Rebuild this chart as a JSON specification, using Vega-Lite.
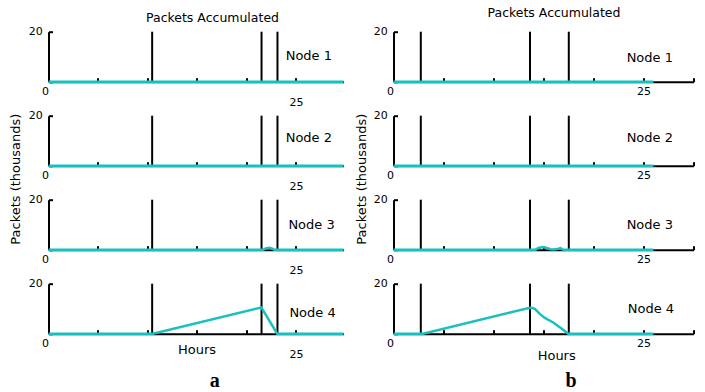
{
  "$schema": "https://vega.github.io/schema/vega-lite/v6.json",
  "autosize": {"type": "pad"},
  "padding": {"left": 8.5, "top": 6.7, "right": 0, "bottom": 0},
  "background": "white",
  "config": {
    "view": {"stroke": null},
    "font": "DejaVu Sans",
    "axis": {
      "domainColor": "black", "domainWidth": 2,
      "tickColor": "black", "tickWidth": 2, "tickSize": -4,
      "labelColor": "black", "labelFont": "DejaVu Sans", "labelFontSize": 11,
      "grid": false, "labelFlush": false, "labelOverlap": false, "labelBound": false,
      "titleFont": "DejaVu Sans", "titleFontSize": 13, "titleFontWeight": "normal", "titleColor": "black"
    }
  },
  "datasets": {
    "series": [
      {"panel": "a1", "t": 0, "v": 0}, {"panel": "a1", "t": 29.8, "v": 0},
      {"panel": "a2", "t": 0, "v": 0}, {"panel": "a2", "t": 29.8, "v": 0},
      {"panel": "a3", "t": 0, "v": 0}, {"panel": "a3", "t": 21.7, "v": 0}, {"panel": "a3", "t": 21.95, "v": 0.5}, {"panel": "a3", "t": 22.3, "v": 0.8}, {"panel": "a3", "t": 22.6, "v": 0.4}, {"panel": "a3", "t": 22.8, "v": 0}, {"panel": "a3", "t": 29.8, "v": 0},
      {"panel": "a4", "t": 0, "v": 0}, {"panel": "a4", "t": 10.55, "v": 0}, {"panel": "a4", "t": 21.5, "v": 10.5}, {"panel": "a4", "t": 23.1, "v": 0}, {"panel": "a4", "t": 29.8, "v": 0},
      {"panel": "b1", "t": 0, "v": 0}, {"panel": "b1", "t": 26.0, "v": 0},
      {"panel": "b2", "t": 0, "v": 0}, {"panel": "b2", "t": 26.0, "v": 0},
      {"panel": "b3", "t": 0, "v": 0}, {"panel": "b3", "t": 14.2, "v": 0}, {"panel": "b3", "t": 14.5, "v": 0.7}, {"panel": "b3", "t": 14.95, "v": 1.1}, {"panel": "b3", "t": 15.4, "v": 0.6}, {"panel": "b3", "t": 15.7, "v": 0.2}, {"panel": "b3", "t": 16.0, "v": 0.1}, {"panel": "b3", "t": 16.4, "v": 0.3}, {"panel": "b3", "t": 16.7, "v": 0.6}, {"panel": "b3", "t": 16.9, "v": 0.1}, {"panel": "b3", "t": 17.2, "v": 0}, {"panel": "b3", "t": 26.0, "v": 0},
      {"panel": "b4", "t": 0, "v": 0}, {"panel": "b4", "t": 2.97, "v": 0}, {"panel": "b4", "t": 13.73, "v": 10.5}, {"panel": "b4", "t": 14.13, "v": 9.9}, {"panel": "b4", "t": 14.63, "v": 7.9}, {"panel": "b4", "t": 15.13, "v": 6.3}, {"panel": "b4", "t": 15.97, "v": 4.5}, {"panel": "b4", "t": 16.8, "v": 2.1}, {"panel": "b4", "t": 17.47, "v": 0}, {"panel": "b4", "t": 26.0, "v": 0}
    ],
    "vlines": [
      {"col": "a", "t": 10.47}, {"col": "a", "t": 21.52}, {"col": "a", "t": 23.13},
      {"col": "b", "t": 2.73}, {"col": "b", "t": 13.65}, {"col": "b", "t": 17.53}
    ],
    "nodes": [
      {"panel": "a1", "t": 26.3, "v": 10.2, "text": "Node 1"},
      {"panel": "a2", "t": 26.3, "v": 11.0, "text": "Node 2"},
      {"panel": "a3", "t": 26.57, "v": 10.0, "text": "Node 3"},
      {"panel": "a4", "t": 26.67, "v": 8.4, "text": "Node 4"},
      {"panel": "b1", "t": 25.63, "v": 9.6, "text": "Node 1"},
      {"panel": "b2", "t": 25.63, "v": 11.0, "text": "Node 2"},
      {"panel": "b3", "t": 25.63, "v": 10.0, "text": "Node 3"},
      {"panel": "b4", "t": 25.75, "v": 10.0, "text": "Node 4"}
    ],
    "letters": [
      {"col": "a", "t": 16.8, "v": -21.2, "text": "a"},
      {"col": "b", "t": 17.75, "v": -21.2, "text": "b"}
    ]
  },
  "bounds": "flush",
  "columns": 2,
  "spacing": {"row": 34, "column": 50},
  "concat": [
    {
      "width": 295, "height": 50,
      "title": {"text": "Packets Accumulated", "fontSize": 12.5, "fontWeight": "normal", "font": "DejaVu Sans", "color": "black", "anchor": "middle", "frame": "group", "dx": 16.5, "baseline": "alphabetic", "offset": -8.5},
      "layer": [
        {"data": {"name": "vlines"}, "transform": [{"filter": "datum.col === 'a'"}], "mark": {"type": "rule", "color": "black", "strokeWidth": 2},
         "encoding": {"x": {"field": "t", "type": "quantitative", "scale": {"domain": [0, 29.8], "nice": false, "zero": false},
           "axis": {"values": [0, 5, 10, 15, 20, 25], "labelExpr": "datum.value === 0 ? '0' : (datum.value === 25 ? ['', '25'] : '')", "labelLineHeight": 10.7, "labelPadding": 8.3, "labelAlign": {"condition": {"test": "datum.value === 0", "value": "right"}, "value": "center"}, "title": null}}}},
        {"data": {"name": "series"}, "transform": [{"filter": "datum.panel === 'a1'"}], "mark": {"type": "line", "color": "#1abfbf", "strokeWidth": 2.5},
         "encoding": {"x": {"field": "t", "type": "quantitative", "scale": {"domain": [0, 29.8], "nice": false, "zero": false}},
           "y": {"field": "v", "type": "quantitative", "scale": {"domain": [0, 20], "nice": false}, "axis": {"values": [0, 10, 20], "labelExpr": "datum.value === 20 ? '20' : ''", "labelPadding": 10.3, "title": null}}}},
        {"data": {"name": "nodes"}, "transform": [{"filter": "datum.panel === 'a1'"}], "mark": {"type": "text", "fontSize": 13, "font": "DejaVu Sans", "color": "black"},
         "encoding": {"x": {"field": "t", "type": "quantitative"}, "y": {"field": "v", "type": "quantitative"}, "text": {"field": "text"}}}
      ]
    },
    {
      "width": 300, "height": 50,
      "title": {"text": "Packets Accumulated", "fontSize": 12.5, "fontWeight": "normal", "font": "DejaVu Sans", "color": "black", "anchor": "middle", "frame": "group", "dx": 10.5, "baseline": "alphabetic", "offset": -3.7},
      "layer": [
        {"data": {"name": "vlines"}, "transform": [{"filter": "datum.col === 'b'"}], "mark": {"type": "rule", "color": "black", "strokeWidth": 2},
         "encoding": {"x": {"field": "t", "type": "quantitative", "scale": {"domain": [0, 30], "nice": false, "zero": false},
           "axis": {"values": [0, 5, 10, 15, 20, 25, 30], "labelExpr": "datum.value === 0 || datum.value === 25 ? datum.label : ''", "labelPadding": 8.3, "labelAlign": {"condition": {"test": "datum.value === 0", "value": "right"}, "value": "center"}, "title": null}}}},
        {"data": {"name": "series"}, "transform": [{"filter": "datum.panel === 'b1'"}], "mark": {"type": "line", "color": "#1abfbf", "strokeWidth": 2.5},
         "encoding": {"x": {"field": "t", "type": "quantitative", "scale": {"domain": [0, 30], "nice": false, "zero": false}},
           "y": {"field": "v", "type": "quantitative", "scale": {"domain": [0, 20], "nice": false}, "axis": {"values": [0, 10, 20], "labelExpr": "datum.value === 20 ? '20' : ''", "labelPadding": 10.3, "title": null}}}},
        {"data": {"name": "nodes"}, "transform": [{"filter": "datum.panel === 'b1'"}], "mark": {"type": "text", "fontSize": 13, "font": "DejaVu Sans", "color": "black"},
         "encoding": {"x": {"field": "t", "type": "quantitative"}, "y": {"field": "v", "type": "quantitative"}, "text": {"field": "text"}}}
      ]
    },
    {
      "width": 295, "height": 50,
      "layer": [
        {"data": {"name": "vlines"}, "transform": [{"filter": "datum.col === 'a'"}], "mark": {"type": "rule", "color": "black", "strokeWidth": 2},
         "encoding": {"x": {"field": "t", "type": "quantitative", "scale": {"domain": [0, 29.8], "nice": false, "zero": false},
           "axis": {"values": [0, 5, 10, 15, 20, 25], "labelExpr": "datum.value === 0 ? '0' : (datum.value === 25 ? ['', '25'] : '')", "labelLineHeight": 10.7, "labelPadding": 8.3, "labelAlign": {"condition": {"test": "datum.value === 0", "value": "right"}, "value": "center"}, "title": null}}}},
        {"data": {"name": "series"}, "transform": [{"filter": "datum.panel === 'a2'"}], "mark": {"type": "line", "color": "#1abfbf", "strokeWidth": 2.5},
         "encoding": {"x": {"field": "t", "type": "quantitative", "scale": {"domain": [0, 29.8], "nice": false, "zero": false}},
           "y": {"field": "v", "type": "quantitative", "scale": {"domain": [0, 20], "nice": false}, "axis": {"values": [0, 10, 20], "labelExpr": "datum.value === 20 ? '20' : ''", "labelPadding": 10.3, "title": null}}}},
        {"data": {"name": "nodes"}, "transform": [{"filter": "datum.panel === 'a2'"}], "mark": {"type": "text", "fontSize": 13, "font": "DejaVu Sans", "color": "black"},
         "encoding": {"x": {"field": "t", "type": "quantitative"}, "y": {"field": "v", "type": "quantitative"}, "text": {"field": "text"}}}
      ]
    },
    {
      "width": 300, "height": 50,
      "layer": [
        {"data": {"name": "vlines"}, "transform": [{"filter": "datum.col === 'b'"}], "mark": {"type": "rule", "color": "black", "strokeWidth": 2},
         "encoding": {"x": {"field": "t", "type": "quantitative", "scale": {"domain": [0, 30], "nice": false, "zero": false},
           "axis": {"values": [0, 5, 10, 15, 20, 25, 30], "labelExpr": "datum.value === 0 || datum.value === 25 ? datum.label : ''", "labelPadding": 8.3, "labelAlign": {"condition": {"test": "datum.value === 0", "value": "right"}, "value": "center"}, "title": null}}}},
        {"data": {"name": "series"}, "transform": [{"filter": "datum.panel === 'b2'"}], "mark": {"type": "line", "color": "#1abfbf", "strokeWidth": 2.5},
         "encoding": {"x": {"field": "t", "type": "quantitative", "scale": {"domain": [0, 30], "nice": false, "zero": false}},
           "y": {"field": "v", "type": "quantitative", "scale": {"domain": [0, 20], "nice": false}, "axis": {"values": [0, 10, 20], "labelExpr": "datum.value === 20 ? '20' : ''", "labelPadding": 10.3, "title": null}}}},
        {"data": {"name": "nodes"}, "transform": [{"filter": "datum.panel === 'b2'"}], "mark": {"type": "text", "fontSize": 13, "font": "DejaVu Sans", "color": "black"},
         "encoding": {"x": {"field": "t", "type": "quantitative"}, "y": {"field": "v", "type": "quantitative"}, "text": {"field": "text"}}}
      ]
    },
    {
      "width": 295, "height": 50,
      "layer": [
        {"data": {"name": "vlines"}, "transform": [{"filter": "datum.col === 'a'"}], "mark": {"type": "rule", "color": "black", "strokeWidth": 2},
         "encoding": {"x": {"field": "t", "type": "quantitative", "scale": {"domain": [0, 29.8], "nice": false, "zero": false},
           "axis": {"values": [0, 5, 10, 15, 20, 25], "labelExpr": "datum.value === 0 ? '0' : (datum.value === 25 ? ['', '25'] : '')", "labelLineHeight": 10.7, "labelPadding": 8.3, "labelAlign": {"condition": {"test": "datum.value === 0", "value": "right"}, "value": "center"}, "title": null}}}},
        {"data": {"name": "series"}, "transform": [{"filter": "datum.panel === 'a3'"}], "mark": {"type": "line", "color": "#1abfbf", "strokeWidth": 2.5},
         "encoding": {"x": {"field": "t", "type": "quantitative", "scale": {"domain": [0, 29.8], "nice": false, "zero": false}},
           "y": {"field": "v", "type": "quantitative", "scale": {"domain": [0, 20], "nice": false}, "axis": {"values": [0, 10, 20], "labelExpr": "datum.value === 20 ? '20' : ''", "labelPadding": 10.3, "title": "Packets (thousands)", "titleX": -33, "titleY": -21, "titleAngle": 270, "titleAlign": "center", "titleBaseline": "middle"}}}},
        {"data": {"name": "nodes"}, "transform": [{"filter": "datum.panel === 'a3'"}], "mark": {"type": "text", "fontSize": 13, "font": "DejaVu Sans", "color": "black"},
         "encoding": {"x": {"field": "t", "type": "quantitative"}, "y": {"field": "v", "type": "quantitative"}, "text": {"field": "text"}}}
      ]
    },
    {
      "width": 300, "height": 50,
      "layer": [
        {"data": {"name": "vlines"}, "transform": [{"filter": "datum.col === 'b'"}], "mark": {"type": "rule", "color": "black", "strokeWidth": 2},
         "encoding": {"x": {"field": "t", "type": "quantitative", "scale": {"domain": [0, 30], "nice": false, "zero": false},
           "axis": {"values": [0, 5, 10, 15, 20, 25, 30], "labelExpr": "datum.value === 0 || datum.value === 25 ? datum.label : ''", "labelPadding": 8.3, "labelAlign": {"condition": {"test": "datum.value === 0", "value": "right"}, "value": "center"}, "title": null}}}},
        {"data": {"name": "series"}, "transform": [{"filter": "datum.panel === 'b3'"}], "mark": {"type": "line", "color": "#1abfbf", "strokeWidth": 2.5},
         "encoding": {"x": {"field": "t", "type": "quantitative", "scale": {"domain": [0, 30], "nice": false, "zero": false}},
           "y": {"field": "v", "type": "quantitative", "scale": {"domain": [0, 20], "nice": false}, "axis": {"values": [0, 10, 20], "labelExpr": "datum.value === 20 ? '20' : ''", "labelPadding": 10.3, "title": "Packets (thousands)", "titleX": -32, "titleY": -21, "titleAngle": 270, "titleAlign": "center", "titleBaseline": "middle"}}}},
        {"data": {"name": "nodes"}, "transform": [{"filter": "datum.panel === 'b3'"}], "mark": {"type": "text", "fontSize": 13, "font": "DejaVu Sans", "color": "black"},
         "encoding": {"x": {"field": "t", "type": "quantitative"}, "y": {"field": "v", "type": "quantitative"}, "text": {"field": "text"}}}
      ]
    },
    {
      "width": 295, "height": 50,
      "layer": [
        {"data": {"name": "vlines"}, "transform": [{"filter": "datum.col === 'a'"}], "mark": {"type": "rule", "color": "black", "strokeWidth": 2},
         "encoding": {"x": {"field": "t", "type": "quantitative", "scale": {"domain": [0, 29.8], "nice": false, "zero": false},
           "axis": {"values": [0, 5, 10, 15, 20, 25], "labelExpr": "datum.value === 0 ? '0' : (datum.value === 25 ? ['', '25'] : '')", "labelLineHeight": 10.7, "labelPadding": 8.3, "labelAlign": {"condition": {"test": "datum.value === 0", "value": "right"}, "value": "center"}, "title": "Hours", "titleX": 148, "titleY": 9.5, "titleAlign": "center", "titleBaseline": "top"}}}},
        {"data": {"name": "series"}, "transform": [{"filter": "datum.panel === 'a4'"}], "mark": {"type": "line", "color": "#1abfbf", "strokeWidth": 2.5},
         "encoding": {"x": {"field": "t", "type": "quantitative", "scale": {"domain": [0, 29.8], "nice": false, "zero": false}},
           "y": {"field": "v", "type": "quantitative", "scale": {"domain": [0, 20], "nice": false}, "axis": {"values": [0, 10, 20], "labelExpr": "datum.value === 20 ? '20' : ''", "labelPadding": 10.3, "title": null}}}},
        {"data": {"name": "nodes"}, "transform": [{"filter": "datum.panel === 'a4'"}], "mark": {"type": "text", "fontSize": 13, "font": "DejaVu Sans", "color": "black"},
         "encoding": {"x": {"field": "t", "type": "quantitative"}, "y": {"field": "v", "type": "quantitative"}, "text": {"field": "text"}}},
        {"data": {"name": "letters"}, "transform": [{"filter": "datum.col === 'a'"}], "mark": {"type": "text", "fontSize": 20, "font": "Liberation Serif", "fontWeight": "bold", "baseline": "alphabetic", "color": "black"},
         "encoding": {"x": {"field": "t", "type": "quantitative"}, "y": {"field": "v", "type": "quantitative"}, "text": {"field": "text"}}}
      ]
    },
    {
      "width": 300, "height": 50,
      "layer": [
        {"data": {"name": "vlines"}, "transform": [{"filter": "datum.col === 'b'"}], "mark": {"type": "rule", "color": "black", "strokeWidth": 2},
         "encoding": {"x": {"field": "t", "type": "quantitative", "scale": {"domain": [0, 30], "nice": false, "zero": false},
           "axis": {"values": [0, 5, 10, 15, 20, 25, 30], "labelExpr": "datum.value === 0 || datum.value === 25 ? datum.label : ''", "labelPadding": 8.3, "labelAlign": {"condition": {"test": "datum.value === 0", "value": "right"}, "value": "center"}, "title": "Hours", "titleX": 162.7, "titleY": 16.2, "titleAlign": "center", "titleBaseline": "top"}}}},
        {"data": {"name": "series"}, "transform": [{"filter": "datum.panel === 'b4'"}], "mark": {"type": "line", "color": "#1abfbf", "strokeWidth": 2.5},
         "encoding": {"x": {"field": "t", "type": "quantitative", "scale": {"domain": [0, 30], "nice": false, "zero": false}},
           "y": {"field": "v", "type": "quantitative", "scale": {"domain": [0, 20], "nice": false}, "axis": {"values": [0, 10, 20], "labelExpr": "datum.value === 20 ? '20' : ''", "labelPadding": 10.3, "title": null}}}},
        {"data": {"name": "nodes"}, "transform": [{"filter": "datum.panel === 'b4'"}], "mark": {"type": "text", "fontSize": 13, "font": "DejaVu Sans", "color": "black"},
         "encoding": {"x": {"field": "t", "type": "quantitative"}, "y": {"field": "v", "type": "quantitative"}, "text": {"field": "text"}}},
        {"data": {"name": "letters"}, "transform": [{"filter": "datum.col === 'b'"}], "mark": {"type": "text", "fontSize": 20, "font": "Liberation Serif", "fontWeight": "bold", "baseline": "alphabetic", "color": "black"},
         "encoding": {"x": {"field": "t", "type": "quantitative"}, "y": {"field": "v", "type": "quantitative"}, "text": {"field": "text"}}}
      ]
    }
  ]
}
